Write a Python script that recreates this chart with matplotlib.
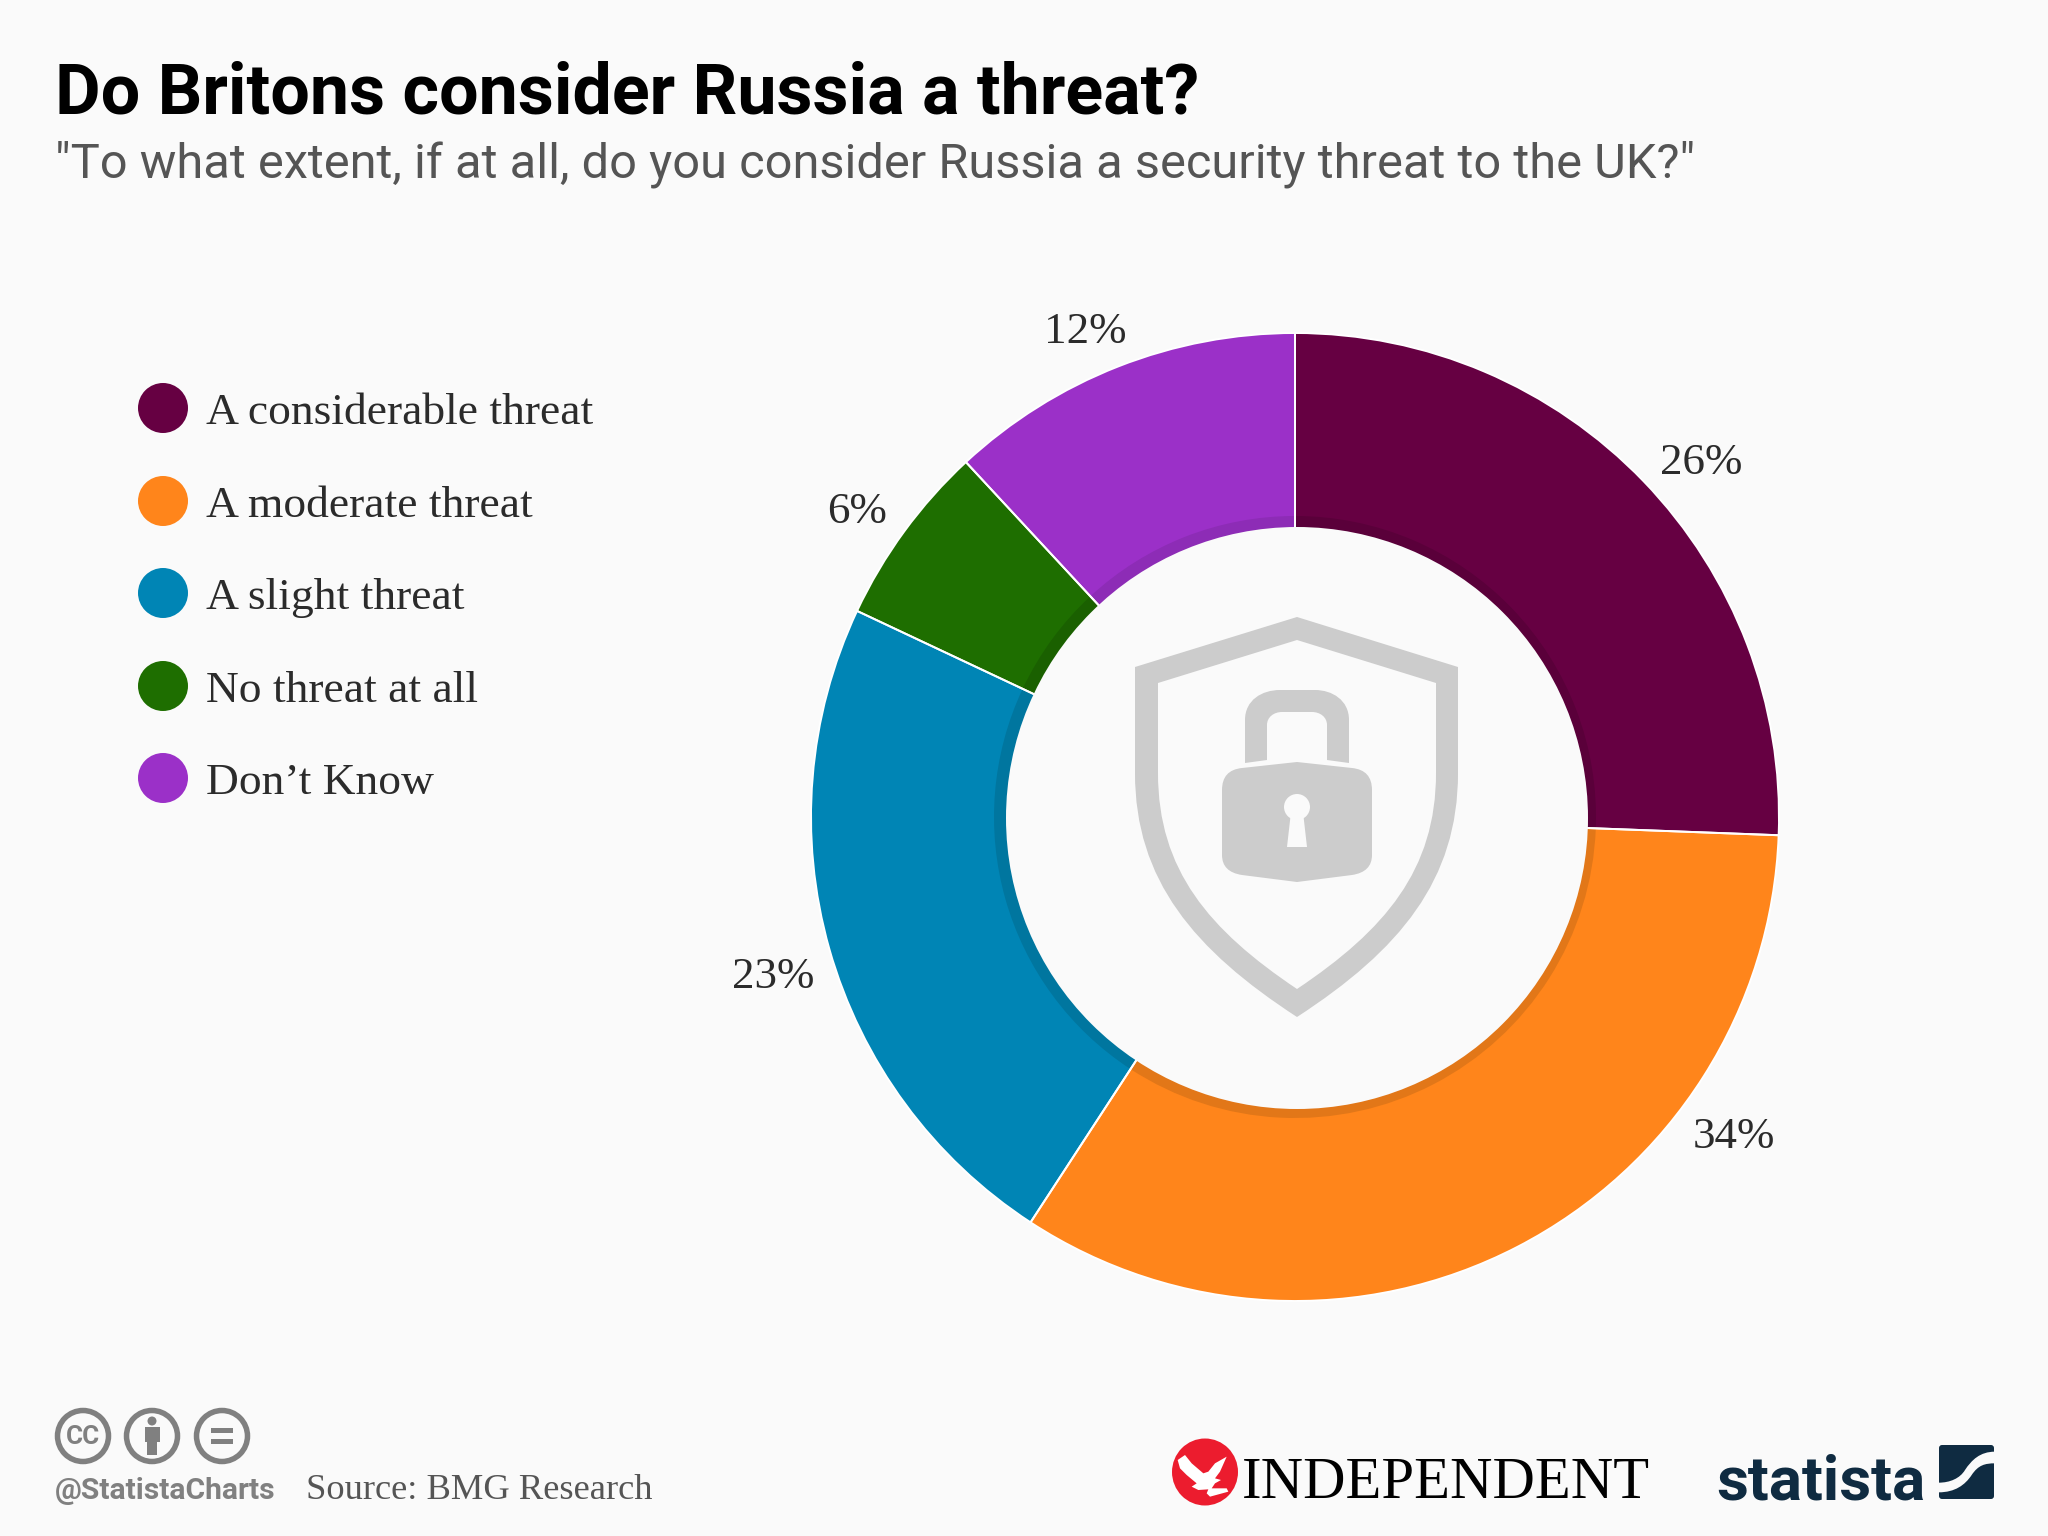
import matplotlib
matplotlib.use('Agg')
import matplotlib.pyplot as plt
from matplotlib.patches import Circle, Ellipse, PathPatch, Rectangle, FancyBboxPatch
from matplotlib.path import Path

# data
categories = ['A considerable threat', 'A moderate threat', 'A slight threat', 'No threat at all', 'Don\u2019t Know']
# slice sizes, the printed labels are rounded and add to 101
values = [25.6, 33.6, 22.8, 6.1, 11.9]
colors = ['#660042', '#FF851B', '#0085B5', '#1E6E00', '#9B30C8']
shadow_colors = ['#5A003A', '#E27718', '#00769F', '#1A6000', '#8D2CB6']
value_labels = ['26%', '34%', '23%', '6%', '12%']

BG = '#FAFAFA'
W, H = 2048, 1536
SERIF = 'Liberation Serif'
SANS = 'Roboto'

fig = plt.figure(figsize=(20.48, 15.36), dpi=100, facecolor=BG)
ax = fig.add_axes([0, 0, 1, 1])


def yy(y):
    # picture y (down) to axes y (up)
    return H - y


def px(size):
    return size * 72 / 100


def shape(verts, codes, color, z=5):
    p = Path([(x, yy(y)) for x, y in verts], codes)
    ax.add_patch(PathPatch(p, facecolor=color, edgecolor='none', zorder=z))


def poly(pts, color, z=5):
    codes = [Path.MOVETO] + [Path.LINETO] * (len(pts) - 1)
    shape(pts, codes, color, z)


# donut
cx, cy = 1295, 817
R = 484
pie_args = dict(center=(cx, yy(cy)), startangle=90, counterclock=False)
ax.pie(values, colors=colors, radius=R, wedgeprops=dict(width=R - 280, edgecolor='none'), **pie_args)
ax.pie(values, colors=shadow_colors, radius=301, wedgeprops=dict(width=21, edgecolor='none'), **pie_args)
ax.pie(values, colors=['none'] * 5, radius=R, wedgeprops=dict(width=R - 280, edgecolor='white', linewidth=1.4),
       **pie_args)
ax.add_patch(Circle((1297, yy(818)), 291, facecolor=BG, edgecolor='none', zorder=4))
ax.set_xlim(0, W)
ax.set_ylim(0, H)
ax.set_aspect('equal')
ax.axis('off')

label_pos = [(1701, 463), (1734, 1137), (773, 977), (857, 512), (1085, 332)]
for (x, y), lab in zip(label_pos, value_labels):
    ax.text(x, yy(y), lab, fontsize=px(45), family=SERIF, color='#2B2B2B', ha='center', va='center')

# legend
legend_y = [408, 501, 593, 686, 778]
for y, c, lab in zip(legend_y, colors, categories):
    ax.add_patch(Circle((163, yy(y)), 25, facecolor=c, edgecolor='none'))
    ax.text(206, yy(y + 16), lab, fontsize=px(45.5), family=SERIF, color='#2B2B2B', ha='left', va='baseline')

# title
ax.text(55, yy(113), 'Do Britons consider Russia a threat?', fontsize=px(70), family=SANS, weight='bold',
        color='black', ha='left', va='baseline')
ax.text(55, yy(178), '"To what extent, if at all, do you consider Russia a security threat to the UK?"',
        fontsize=px(48.7), family=SANS, color='#555555', ha='left', va='baseline')

# shield icon, coordinates from the picture
GREY = '#CCCCCC'
c3 = Path.CURVE3
c4 = Path.CURVE4
mv, ln, cl = Path.MOVETO, Path.LINETO, Path.CLOSEPOLY
outer = [(1297, 617), (1458, 667), (1458, 773), (1458, 880), (1400, 950), (1297, 1017),
         (1194, 950), (1135, 880), (1135, 773), (1135, 667), (1297, 617)]
outer_c = [mv, ln, ln, c4, c4, c4, c4, c4, c4, ln, cl]
inner = [(1297, 640), (1158, 683), (1158, 773), (1158, 870), (1209, 930), (1297, 989),
         (1385, 930), (1436, 870), (1436, 773), (1436, 683), (1297, 640)]
inner_c = [mv, ln, ln, c4, c4, c4, c4, c4, c4, ln, cl]
shape(outer + inner, outer_c + inner_c, GREY)

# lock body
body = [(1297, 762), (1352, 768), (1372, 770), (1372, 790), (1372, 855), (1372, 872), (1352, 875), (1297, 882),
        (1242, 875), (1222, 872), (1222, 855), (1222, 790), (1222, 770), (1242, 768), (1297, 762)]
body_c = [mv, ln, c3, c3, ln, c3, c3, ln, ln, c3, c3, ln, c3, c3, cl]
shape(body, body_c, GREY)
# shackle
shackle = [(1245, 763), (1245, 720), (1245, 700), (1262, 690), (1280, 690), (1315, 690), (1332, 690),
           (1349, 700), (1349, 720), (1349, 763), (1327, 760), (1327, 725), (1327, 717), (1320, 712),
           (1312, 712), (1282, 712), (1274, 712), (1267, 717), (1267, 725), (1267, 760), (1245, 763)]
shackle_c = [mv, ln, c4, c4, c4, ln, c4, c4, c4, ln, ln, ln, c4, c4, c4, ln, c4, c4, c4, ln, cl]
shape(shackle, shackle_c, GREY)
# keyhole
ax.add_patch(Circle((1297, yy(807)), 13, facecolor=BG, edgecolor='none', zorder=6))
poly([(1291, 812), (1303, 812), (1307, 847), (1287, 847)], BG, 6)

# cc badges
BADGE = '#808080'
for x in [83, 152, 222]:
    ax.add_patch(Circle((x, yy(1436)), 25.5, facecolor='none', edgecolor=BADGE, linewidth=px(5.5)))
ax.text(83, yy(1437), 'CC', fontsize=px(26), family=SANS, weight='bold', color=BADGE, ha='center', va='center')
ax.add_patch(Circle((152, yy(1421)), 4.5, facecolor=BADGE, edgecolor='none'))
poly([(145, 1427), (160, 1427), (160, 1442), (157, 1442), (157, 1455), (147, 1455), (147, 1442), (145, 1442)], BADGE)
ax.add_patch(Rectangle((211, yy(1433)), 22, 5, facecolor=BADGE, edgecolor='none'))
ax.add_patch(Rectangle((211, yy(1444)), 22, 5, facecolor=BADGE, edgecolor='none'))

ax.text(55, yy(1499), '@StatistaCharts', fontsize=px(30), family=SANS, weight='bold', color=BADGE,
        ha='left', va='baseline')
ax.text(306, yy(1499), 'Source: BMG Research', fontsize=px(36.5), family=SERIF, color='#555555',
        ha='left', va='baseline')

# independent logo
ax.add_patch(Ellipse((1205, yy(1472)), 66, 67, facecolor='#EC1C2E', edgecolor='none'))
eagle = [(38, 90), (60, 75), (80, 100), (115, 130), (130, 125), (150, 100), (185, 80), (165, 125), (150, 145),
         (168, 150), (150, 160), (140, 175), (185, 175), (190, 185), (135, 200), (125, 190), (130, 178),
         (100, 180), (80, 170), (95, 160), (65, 135), (45, 115)]
poly([(1165 + x / 3, 1430 + y / 3) for x, y in eagle], 'white', 6)
ax.text(1242, yy(1498), 'INDEPENDENT', fontsize=px(58.6), family=SERIF, color='black', ha='left', va='baseline')

# statista logo
NAVY = '#0F2B41'
ax.text(1716, yy(1499), 'statista', fontsize=px(62), family=SANS, weight='bold', color=NAVY,
        ha='left', va='baseline')
ax.add_patch(FancyBboxPatch((1939, yy(1499)), 55, 54, boxstyle='round,pad=0,rounding_size=3',
                            facecolor=NAVY, edgecolor='none'))
band = [(195, 50), (150, 50), (125, 75), (105, 105), (90, 130), (60, 143), (26, 143),
        (26, 172), (75, 172), (105, 150), (125, 120), (145, 90), (165, 85), (195, 85), (195, 50)]
band_c = [mv, c4, c4, c4, c4, c4, c4, ln, c4, c4, c4, c4, c4, c4, cl]
shape([(1930 + x / 3, 1435 + y / 3) for x, y in band], band_c, BG, 6)

fig.savefig('out.png', dpi=100, facecolor=BG)
